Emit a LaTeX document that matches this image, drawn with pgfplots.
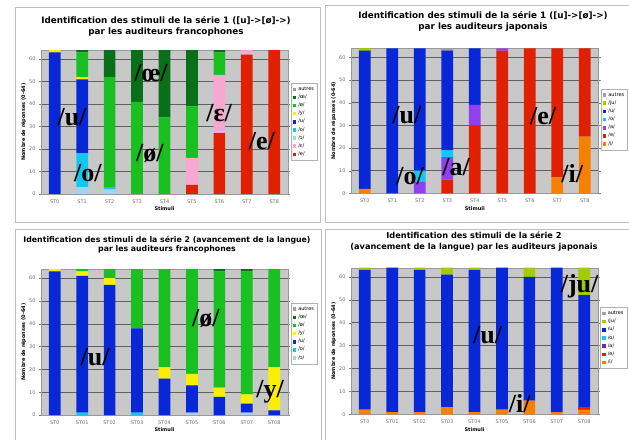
\documentclass[border=0pt]{standalone}
\usepackage{fontspec}
\setmainfont{DejaVu Sans}
\newfontfamily\bigserif{Liberation Serif}
\usepackage{pgfplots}
\usepackage{pgfplotstable}
\pgfplotsset{compat=1.18}

\definecolor{cE}{HTML}{E02000}
\definecolor{cEps}{HTML}{F8A8D0}
\definecolor{cOpen}{HTML}{A8D0F0}
\definecolor{cO}{HTML}{10C8F0}
\definecolor{cU}{HTML}{0828D8}
\definecolor{cY}{HTML}{F8F000}
\definecolor{cOe}{HTML}{18C020}
\definecolor{cOE}{HTML}{087018}
\definecolor{cAut}{HTML}{A0A0A0}
\definecolor{cJu}{HTML}{A0CC00}
\definecolor{cA}{HTML}{9040F0}
\definecolor{cI}{HTML}{F88000}
\definecolor{plotbg}{HTML}{C8C8C8}
\definecolor{ticktxt}{HTML}{707070}

% serie 1, francophones
\pgfplotstableread{
x e eps open o u y oe OE aut
0 0 0 0 0 63 1 0 0 0
1 0 0 3 15 33 1 11 1 0
2 0 0 2 1 0 0 49 12 0
3 0 0 0 0 0 0 41 23 0
4 0 0 0 0 0 0 34 30 0
5 4 12 0 0 0 0 23 25 0
6 27 26 0 0 0 0 10 1 0
7 62 2 0 0 0 0 0 0 0
8 64 0 0 0 0 0 0 0 0
}\tabA
% serie 1, japonais
\pgfplotstableread{
x i e a o u ju aut
0 2 0 0 0 61 1 0
1 0 0 0 0 64 0 0
2 0 0 5 5 54 0 0
3 0 6 10 3 44 0 1
4 0 30 9 0 25 0 0
5 0 63 1 0 0 0 0
6 0 64 0 0 0 0 0
7 7 57 0 0 0 0 0
8 25 39 0 0 0 0 0
}\tabB
% serie 2, francophones
\pgfplotstableread{
x open o u y oe OE aut
0 0 0 63 1 0 0 0
1 0 1 60 2 1 0 0
2 0 0 57 3 4 0 0
3 0 1 37 0 26 0 0
4 0 0 16 5 43 0 0
5 1 0 12 5 46 0 0
6 0 0 8 4 51 1 0
7 1 0 4 4 54 1 0
8 0 0 2 19 43 0 0
}\tabC
% serie 2, japonais
\pgfplotstableread{
x i e a o u ju aut
0 2 0 0 0 61 1 0
1 1 0 0 0 63 0 0
2 1 0 0 0 62 1 0
3 3 0 0 0 58 3 0
4 1 0 0 0 62 1 0
5 2 0 0 0 62 0 0
6 6 0 0 0 54 4 0
7 1 0 0 0 63 0 0
8 2 1 0 0 49 12 0
}\tabD

\tikzset{bigl/.style={font=\bigserif\bfseries\fontsize{26}{26}\selectfont}}
\pgfplotsset{
  panel/.style={
    scale only axis, anchor=south west,
    width=247pt, height=145pt,
    ybar stacked, bar width=11.7pt,
    xmin=-0.5, xmax=8.5, ymin=0, ymax=64,
    xtick={0,...,8}, ytick={0,10,...,60},
    ymajorgrids, grid style={draw=gray!75!black, line width=0.5pt},
    axis background/.style={fill=plotbg},
    axis line style={draw=gray!80},
    tick label style={font=\fontsize{5}{6}\selectfont, text=ticktxt},
    /pgf/number format/assume math mode=true,
    xtick style={draw=none},
    ytick style={draw=gray},
    tick align=outside, major tick length=2pt,
    xlabel={Stimuli}, ylabel={Nombre de réponses (0-64)},
    label style={font=\bfseries\fontsize{5}{6}\selectfont},
    xlabel style={yshift=3pt},
    ylabel style={yshift=-4pt},
    clip=false,
    reverse legend,
    legend cell align=left,
    legend image code/.code={\fill[##1] (0pt,-1.8pt) rectangle (3.6pt,1.8pt);},
    legend style={draw=gray!60, fill=white, font=\fontsize{5}{8.5}\selectfont,
      inner sep=1.5pt, anchor=north west, row sep=-1pt},
    every axis plot/.append style={draw=none},
  },
}

\begin{document}
\begin{tikzpicture}
\path[use as bounding box] (0,0) rectangle (629pt,439pt);
\clip (0,0) rectangle (629pt,439pt);
\fill[white] (0,0) rectangle (629pt,439pt);

\draw[gray!50, line width=0.7pt] (15pt,432pt) rectangle (320pt,217pt);
\draw[gray!50, line width=0.7pt] (325pt,434pt) rectangle (640pt,217pt);
\draw[gray!50, line width=0.7pt] (15pt,210pt) rectangle (321pt,-5pt);
\draw[gray!50, line width=0.7pt] (325pt,210pt) rectangle (640pt,-5pt);

\node[font=\bfseries\fontsize{8.8}{11}\selectfont, align=center] at (166pt,412.5pt)
  {Identification des stimuli de la série 1 ([u]->[ø]->)\\par les auditeurs francophones};
\node[font=\bfseries\fontsize{8.8}{11}\selectfont, align=center] at (483pt,417.5pt)
  {Identification des stimuli de la série 1 ([u]->[ø]->)\\par les auditeurs japonais};
\node[font=\bfseries\fontsize{7.8}{9.5}\selectfont, align=center] at (167pt,194.5pt)
  {Identification des stimuli de la série 2 (avancement de la langue)\\par les auditeurs francophones};
\node[font=\bfseries\fontsize{8.2}{11}\selectfont, align=center] at (474pt,197.5pt)
  {Identification des stimuli de la série 2\\(avancement de la langue) par les auditeurs japonais};

% panel 1
\begin{axis}[panel, at={(41pt,245pt)}, height=144pt,
  xticklabels={ST0,ST1,ST2,ST3,ST4,ST5,ST6,ST7,ST8},
  legend style={at={(1.012,0.77)}}]
\addplot[fill=cE] table[x=x,y=e] {\tabA};
\addplot[fill=cEps] table[x=x,y=eps] {\tabA};
\addplot[fill=cOpen] table[x=x,y=open] {\tabA};
\addplot[fill=cO] table[x=x,y=o] {\tabA};
\addplot[fill=cU] table[x=x,y=u] {\tabA};
\addplot[fill=cY] table[x=x,y=y] {\tabA};
\addplot[fill=cOe] table[x=x,y=oe] {\tabA};
\addplot[fill=cOE] table[x=x,y=OE] {\tabA};
\addplot[fill=cAut] table[x=x,y=aut] {\tabA};
\legend{/e/,/ɛ/,/ɔ/,/o/,/u/,/y/,/ø/,/œ/,autres}
\coordinate (a1) at (axis cs:0.63,34.2);
\coordinate (a2) at (axis cs:1.21,9.3);
\coordinate (a3) at (axis cs:3.51,53.8);
\coordinate (a4) at (axis cs:3.47,18.2);
\coordinate (a5) at (axis cs:5.99,36);
\coordinate (a6) at (axis cs:7.55,23.6);
\end{axis}

% panel 2
\begin{axis}[panel, at={(351pt,245.7pt)}, width=247.6pt,
  xticklabels={ST0,ST1,ST2,ST3,ST4,ST5,ST6,ST7,ST8},
  legend style={at={(1.01,0.72)}}]
\addplot[fill=cI] table[x=x,y=i] {\tabB};
\addplot[fill=cE] table[x=x,y=e] {\tabB};
\addplot[fill=cA] table[x=x,y=a] {\tabB};
\addplot[fill=cO] table[x=x,y=o] {\tabB};
\addplot[fill=cU] table[x=x,y=u] {\tabB};
\addplot[fill=cJu] table[x=x,y=ju] {\tabB};
\addplot[fill=cAut] table[x=x,y=aut] {\tabB};
\legend{/i/,/e/,/a/,/o/,/u/,/ju/,autres}
\coordinate (b1) at (axis cs:1.53,34.5);
\coordinate (b2) at (axis cs:1.65,7.6);
\coordinate (b3) at (axis cs:3.32,11.6);
\coordinate (b4) at (axis cs:6.48,34);
\coordinate (b5) at (axis cs:7.54,8.5);
\end{axis}

% panel 3
\begin{axis}[panel, at={(41pt,24pt)}, height=146pt,
  xticklabels={ST0,ST01,ST02,ST03,ST04,ST05,ST06,ST07,ST08},
  legend style={at={(1.012,0.767)}}]
\addplot[fill=cOpen] table[x=x,y=open] {\tabC};
\addplot[fill=cO] table[x=x,y=o] {\tabC};
\addplot[fill=cU] table[x=x,y=u] {\tabC};
\addplot[fill=cY] table[x=x,y=y] {\tabC};
\addplot[fill=cOe] table[x=x,y=oe] {\tabC};
\addplot[fill=cOE] table[x=x,y=OE] {\tabC};
\addplot[fill=cAut] table[x=x,y=aut] {\tabC};
\legend{/ɔ/,/o/,/u/,/y/,/ø/,/œ/,autres}
\coordinate (c1) at (axis cs:1.47,25.4);
\coordinate (c2) at (axis cs:5.51,42.5);
\coordinate (c3) at (axis cs:7.85,10);
\end{axis}

% panel 4
\begin{axis}[panel, at={(351pt,24.7pt)}, height=146.6pt,
  xticklabels={ST0,ST01,ST02,ST03,ST04,ST05,ST06,ST07,ST08},
  legend style={at={(1.01,0.73)}}]
\addplot[fill=cI] table[x=x,y=i] {\tabD};
\addplot[fill=cE] table[x=x,y=e] {\tabD};
\addplot[fill=cA!70!black] table[x=x,y=a] {\tabD};
\addplot[fill=cO] table[x=x,y=o] {\tabD};
\addplot[fill=cU] table[x=x,y=u] {\tabD};
\addplot[fill=cJu] table[x=x,y=ju] {\tabD};
\addplot[fill=cAut] table[x=x,y=aut] {\tabD};
\legend{/i/,/e/,/a/,/o/,/u/,/ju/,autres}
\coordinate (d1) at (axis cs:4.48,34.5);
\coordinate (d2) at (axis cs:5.65,4.6);
\coordinate (d3) at (axis cs:7.83,56);
\end{axis}

% phoneme labels drawn over the bars
\node[bigl] at (a1) {/u/};
\node[bigl] at (a2) {/o/};
\node[bigl] at (a3) {/œ/};
\node[bigl] at (a4) {/ø/};
\node[bigl] at (a5) {/ɛ/};
\node[bigl] at (a6) {/e/};
\node[bigl] at (b1) {/u/};
\node[bigl] at (b2) {/o/};
\node[bigl] at (b3) {/a/};
\node[bigl] at (b4) {/e/};
\node[bigl] at (b5) {/i/};
\node[bigl] at (c1) {/u/};
\node[bigl] at (c2) {/ø/};
\node[bigl] at (c3) {/y/};
\node[bigl] at (d1) {/u/};
\node[bigl] at (d2) {/i/};
\node[bigl] at (d3) {/ju/};
\end{tikzpicture}
\end{document}
